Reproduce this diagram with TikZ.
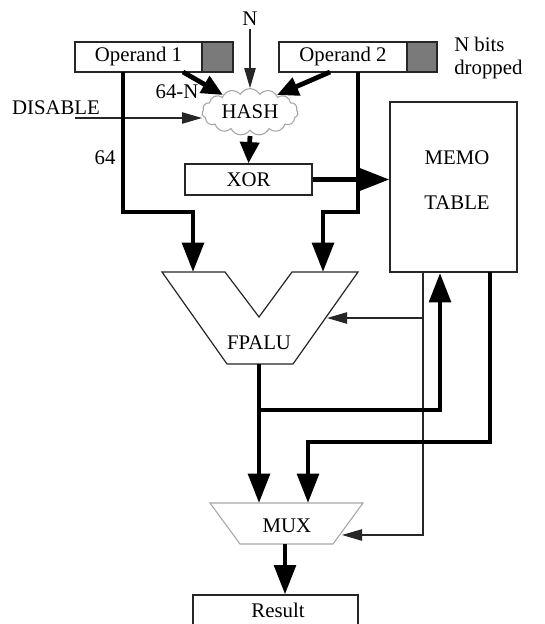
\documentclass[tikz,border=0pt]{standalone}
\usepackage{fontspec}
\setmainfont{Liberation Serif}
\usetikzlibrary{arrows.meta,shapes.symbols}
\begin{document}
\begin{tikzpicture}[x=0.75pt,y=-0.75pt,
  font=\fontsize{15.6}{17}\selectfont,
  box/.style={draw=black!85, line width=0.9pt, inner sep=0pt, fill=white},
  fatline/.style={line width=3.6pt, draw=black},
  slimline/.style={line width=0.9pt, draw=black!85},
  bighead/.style={-{Triangle[length=22pt,width=16pt]}},
  midhead/.style={-{Triangle[length=16pt,width=14pt]}},
  smallhead/.style={-{Triangle[length=15pt,width=8.5pt]}},
  dimline/.style={draw=black!35, line width=0.8pt}
]
\useasboundingbox (0,0) rectangle (545,624);
\clip (0,0) rectangle (545,624);
\fill[white] (0,0) rectangle (545,624);

% operand boxes
\node[box, minimum width=95.25pt, minimum height=22.5pt] (op1) at (138.5,57) {Operand 1};
\node[box, fill=black!52, minimum width=23.25pt, minimum height=22.5pt] (op1g) at (217.5,57) {};
\node[box, minimum width=96pt, minimum height=22.5pt] (op2) at (343,57) {Operand 2};
\node[box, fill=black!52, minimum width=22.5pt, minimum height=22.5pt] (op2g) at (422,57) {};
\node[align=left, anchor=west, inner sep=0pt] (nbits) at (454,58) {N bits\\dropped};

% hash
\node[cloud, cloud puffs=15, cloud puff arc=120, cloud ignores aspect, draw=black!35, line width=0.8pt,
      minimum width=72pt, minimum height=35pt, inner sep=0pt] (hash) at (250,112) {HASH};
\node[inner sep=0pt] (nlab) at (250,19) {N};
\node[inner sep=0pt] (dis) at (56,108) {DISABLE};
\node[inner sep=0pt] (l64n) at (177,92) {64-N};
\node[inner sep=0pt] (l64) at (105,158) {64};

% xor and memo
\node[box, minimum width=95.25pt, minimum height=23.25pt] (xor) at (248.5,179.5) {XOR};
\node[box, minimum width=95.25pt, minimum height=127.5pt] (memo) at (453.5,187) {};
\node (memot1) at (457,158) {MEMO};
\node (memot2) at (457,203) {TABLE};

% FPALU
\draw[box] (162,272) -- (225,272) -- (259,317) -- (292,272) -- (358,272) -- (293,364) -- (227,364) -- cycle;
\node (fpalu) at (259,343) {FPALU};

% MUX
\draw[dimline] (210,503) -- (363,503) -- (333,544) -- (240,544) -- cycle;
\node (mux) at (287,526) {MUX};

% Result
\node[box, minimum width=123.75pt, minimum height=27pt] (result) at (275.5,613) {};
\node (restext) at (278,610) {Result};

% coordinates
\coordinate (nS) at (250,29);
\coordinate (disS) at (75,118);
\coordinate (disE) at (202,118);
\coordinate (o1a) at (183,72);
\coordinate (h1) at (223,95);
\coordinate (o2a) at (330,72);
\coordinate (h2) at (277,95);
\coordinate (hS) at (250,136);
\coordinate (o1b) at (123,72);
\coordinate (o2b) at (358,72);
\coordinate (fpIn1) at (193,272);
\coordinate (fpIn2) at (323,272);
\coordinate (mThin) at (423,272);
\coordinate (fpSide) at (327,318);
\coordinate (muxSide) at (342,535);
\coordinate (fpOut) at (259,364);
\coordinate (mIn) at (440,273);
\coordinate (mOut) at (490,272);
\coordinate (muxIn1) at (259,503);
\coordinate (muxIn2) at (308,503);
\coordinate (muxOut) at (285,544);

% connectors
\draw[slimline, smallhead] (nS) -- (hash.north);
\draw[slimline, smallhead] (disS) -- (disE);
\draw[fatline, midhead] (o1a) -- (h1);
\draw[fatline, midhead] (o2a) -- (h2);
\draw[fatline, midhead] (hS) -- (xor.north);
\draw[fatline, bighead] (o1b) -- (123,212) -- (193,212) -- (fpIn1);
\draw[fatline, bighead] (o2b) -- (358,212) -- (323,212) -- (fpIn2);
\draw[fatline, bighead] (xor.east) -- (xor.east -| memo.west);
\draw[slimline, smallhead] (mThin) -- (423,535) -- (muxSide);
\draw[slimline, smallhead] (423,318) -- (fpSide);
\draw[fatline, bighead] (fpOut) -- (muxIn1);
\draw[fatline, bighead] (259,410) -- (440,410) -- (mIn);
\draw[fatline, bighead] (mOut) -- (490,442) -- (308,442) -- (muxIn2);
\draw[fatline, bighead] (muxOut) -- (result.north -| muxOut);
\end{tikzpicture}
\end{document}
